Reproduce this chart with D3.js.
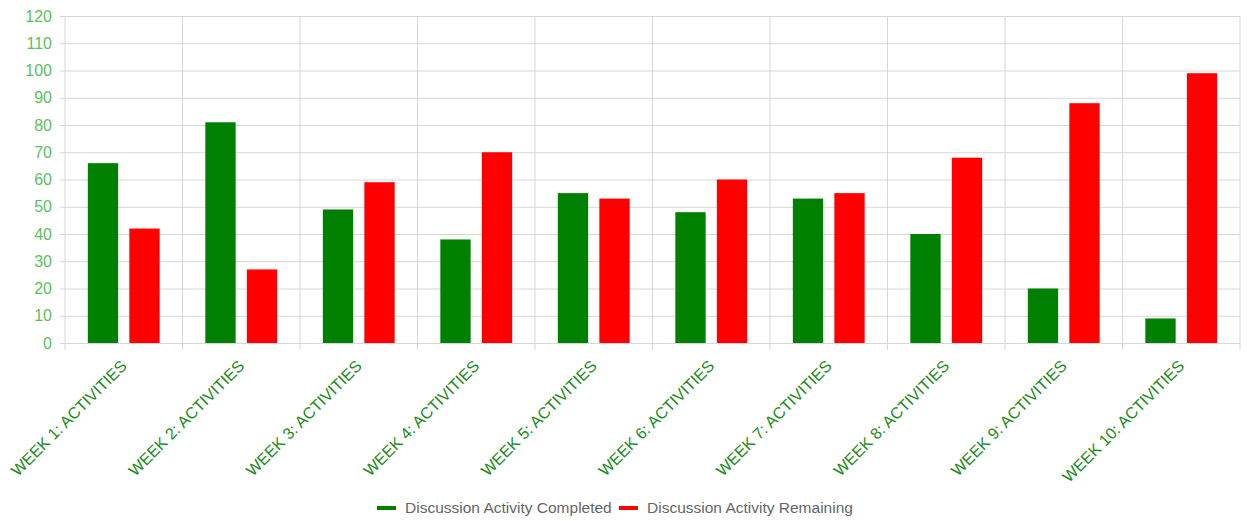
<!DOCTYPE html>
<html>
<head>
<meta charset="utf-8">
<script src="https://cdn.jsdelivr.net/npm/d3@7"></script>
<style>
  body { margin: 0; background: #fff; }
  svg { display: block; font-family: "Liberation Sans", Arial, sans-serif; }
</style>
</head>
<body>
<div id="chart"></div>
<script>
// chart data
const weeks = ['WEEK 1: ACTIVITIES', 'WEEK 2: ACTIVITIES', 'WEEK 3: ACTIVITIES', 'WEEK 4: ACTIVITIES',
  'WEEK 5: ACTIVITIES', 'WEEK 6: ACTIVITIES', 'WEEK 7: ACTIVITIES', 'WEEK 8: ACTIVITIES',
  'WEEK 9: ACTIVITIES', 'WEEK 10: ACTIVITIES']
const completed = [66, 81, 49, 38, 55, 48, 53, 40, 20, 9]
const remaining = [42, 27, 59, 70, 53, 60, 55, 68, 88, 99]
const seriesNames = ['Discussion Activity Completed', 'Discussion Activity Remaining']
const seriesColors = ['#008000', '#ff0000']
const yTicks = d3.range(0, 121, 10)

const width = 1248
const height = 521
const margin = { top: 16, right: 8, bottom: 178, left: 65 }
const w = width - margin.left - margin.right
const h = height - margin.top - margin.bottom

const svg = d3.select('#chart').append('svg')
  .attr('width', width)
  .attr('height', height)

const g = svg.append('g')
  .attr('transform', 'translate(' + margin.left + ',' + margin.top + ')')

const x = d3.scaleBand().domain(weeks).range([0, w])
const inner = d3.scaleBand().domain(seriesNames)
  .range([0, x.bandwidth()])
  .paddingInner(0.27)
  .paddingOuter(0.55)
const y = d3.scaleLinear().domain([0, 120]).range([h, 0])

// horizontal grid + y labels
g.append('g')
  .attr('class', 'axis y')
  .call(d3.axisLeft(y).tickValues(yTicks).tickSize(-w - 5).tickPadding(8))
  .attr('transform', 'translate(-5,0)')
  .call(a => a.select('.domain').remove())
  .call(a => a.selectAll('.tick line').attr('stroke', '#d6d6d6'))
  .call(a => a.selectAll('.tick text')
    .attr('fill', '#5cbf5c')
    .style('font-size', '16px'))

// vertical grid lines at category edges
const edges = weeks.map(d => x(d)).concat([w])
g.append('g').attr('class', 'vgrid')
  .selectAll('line').data(edges).enter()
  .append('line')
  .attr('x1', d => d).attr('x2', d => d)
  .attr('y1', 0).attr('y2', h + 7)
  .attr('stroke', '#d6d6d6')

// bars
const rows = weeks.map((wk, i) => ({ wk, vals: [completed[i], remaining[i]] }))
const groups = g.append('g').attr('class', 'bars')
  .selectAll('g').data(rows).enter()
  .append('g')
  .attr('transform', d => 'translate(' + x(d.wk) + ',0)')
groups.selectAll('rect')
  .data(d => d.vals.map((v, j) => ({ v, j })))
  .enter().append('rect')
  .attr('x', d => inner(seriesNames[d.j]))
  .attr('width', inner.bandwidth())
  .attr('y', d => y(d.v))
  .attr('height', d => h - y(d.v))
  .attr('fill', d => seriesColors[d.j])

// x labels, rotated
g.append('g').attr('class', 'axis x')
  .attr('transform', 'translate(0,' + h + ')')
  .selectAll('text').data(weeks).enter()
  .append('text')
  .attr('transform', d => 'translate(' + (x(d) + x.bandwidth() / 2 - 4) + ',16) rotate(-45)')
  .attr('text-anchor', 'end')
  .attr('dy', '0.71em')
  .attr('fill', '#1a8a1a')
  .style('font-size', '16px')
  .text(d => d)

// legend
const legend = svg.append('g').attr('class', 'legend')
const legendX = [377, 619]
seriesNames.forEach((name, i) => {
  const item = legend.append('g').attr('transform', 'translate(' + legendX[i] + ',508)')
  item.append('rect')
    .attr('x', 0).attr('y', -2)
    .attr('width', 19).attr('height', 4)
    .attr('fill', seriesColors[i])
  item.append('text')
    .attr('x', 28)
    .attr('dy', '0.35em')
    .attr('fill', '#666')
    .style('font-size', '15.5px')
    .text(name)
})
</script>
</body>
</html>
